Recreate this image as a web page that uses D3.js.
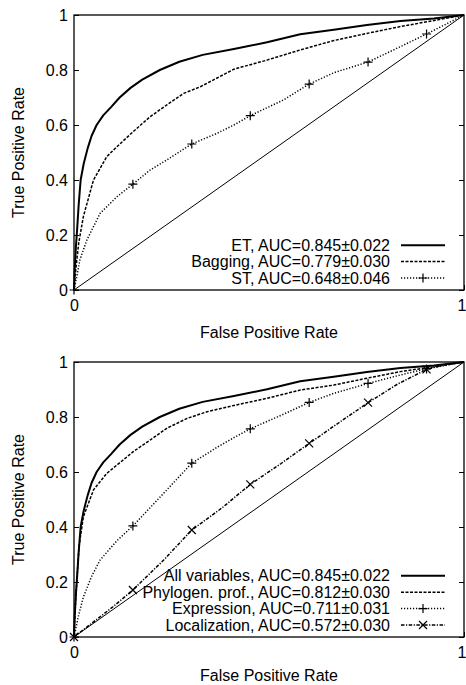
<!DOCTYPE html>
<html>
<head>
<meta charset="utf-8">
<script src="https://cdn.jsdelivr.net/npm/d3@7"></script>
<style>
body { margin: 0; background: #fff; }
text { font-family: "Liberation Sans", Arial, Helvetica, sans-serif; font-size: 16px; fill: #000; }
</style>
</head>
<body>
<div class="chart"></div>
<script>
var svgWidth = 466;
var svgHeight = 685;

var margin = { top: 15, right: 2, left: 74 };
var width = svgWidth - margin.left - margin.right;
var height = 275;
var panelTops = [15, 362];

// ROC curves (FPR grid, TPR values)
// ET and "All variables" are the same model (same AUC), so one curve
var etFpr = [0, 0.002, 0.005, 0.008, 0.012, 0.017, 0.025, 0.035, 0.045, 0.058, 0.075, 0.095, 0.117, 0.145, 0.175, 0.22, 0.27, 0.33, 0.41, 0.495, 0.58, 0.666, 0.751, 0.837, 0.923, 1];
var etTpr = [0, 0.08, 0.16, 0.22, 0.31, 0.40, 0.46, 0.515, 0.56, 0.60, 0.635, 0.665, 0.70, 0.735, 0.765, 0.80, 0.83, 0.855, 0.876, 0.901, 0.93, 0.946, 0.964, 0.978, 0.987, 1];

var bagFpr = [0, 0.005, 0.012, 0.024, 0.05, 0.084, 0.11, 0.152, 0.195, 0.238, 0.281, 0.324, 0.41, 0.495, 0.58, 0.666, 0.751, 0.837, 0.923, 1];
var bagTpr = [0, 0.08, 0.17, 0.267, 0.40, 0.485, 0.521, 0.576, 0.63, 0.673, 0.715, 0.739, 0.803, 0.836, 0.873, 0.907, 0.933, 0.958, 0.98, 1];

var stFpr = [0, 0.008, 0.015, 0.033, 0.067, 0.11, 0.151, 0.195, 0.238, 0.302, 0.367, 0.41, 0.452, 0.537, 0.603, 0.666, 0.754, 0.837, 0.904, 1];
var stTpr = [0, 0.055, 0.109, 0.182, 0.279, 0.339, 0.385, 0.436, 0.473, 0.531, 0.57, 0.60, 0.634, 0.691, 0.749, 0.79, 0.829, 0.885, 0.931, 1];

var phyFpr = [0, 0.003, 0.008, 0.013, 0.024, 0.05, 0.084, 0.152, 0.195, 0.238, 0.29, 0.341, 0.41, 0.495, 0.58, 0.666, 0.751, 0.837, 0.923, 1];
var phyTpr = [0, 0.10, 0.22, 0.33, 0.437, 0.535, 0.595, 0.674, 0.716, 0.759, 0.795, 0.819, 0.842, 0.868, 0.898, 0.916, 0.941, 0.965, 0.983, 1];

var exprFpr = [0, 0.012, 0.024, 0.045, 0.067, 0.11, 0.151, 0.195, 0.238, 0.302, 0.367, 0.41, 0.452, 0.537, 0.603, 0.666, 0.754, 0.837, 0.904, 1];
var exprTpr = [0, 0.08, 0.145, 0.22, 0.28, 0.35, 0.404, 0.47, 0.535, 0.632, 0.69, 0.725, 0.757, 0.81, 0.853, 0.886, 0.922, 0.953, 0.975, 1];

var locFpr = [0, 0.05, 0.10, 0.151, 0.23, 0.302, 0.38, 0.452, 0.53, 0.603, 0.68, 0.754, 0.83, 0.904, 0.95, 1];
var locTpr = [0, 0.055, 0.11, 0.171, 0.28, 0.389, 0.47, 0.555, 0.63, 0.704, 0.78, 0.852, 0.92, 0.973, 0.99, 1];

// gnuplot puts a point symbol every few samples
var markFpr = [0, 0.151, 0.302, 0.452, 0.603, 0.754, 0.904];

var yTicks = [0, 0.2, 0.4, 0.6, 0.8, 1];
var xTicks = [0, 1];

var topLabels = ["ET, AUC=0.845±0.022", "Bagging, AUC=0.779±0.030", "ST, AUC=0.648±0.046"];
var bottomLabels = ["All variables, AUC=0.845±0.022", "Phylogen. prof., AUC=0.812±0.030", "Expression, AUC=0.711±0.031", "Localization, AUC=0.572±0.030"];

var svg = d3.select(".chart")
    .append("svg")
    .attr("width", svgWidth)
    .attr("height", svgHeight);

var plusPath = "M-4.5,0H4.5M0,-4.5V4.5";
var crossPath = "M-4,-4L4,4M-4,4L4,-4";

// line styles
var solid = { dash: null, w: 2 };
var dashed = { dash: "3,1.5", w: 1.5 };
var dotted = { dash: "1.2,1.8", w: 1.5 };
var dashDot = { dash: "3.5,1.5,1.2,1.5", w: 1.5 };

var topCurves = [
    { fpr: etFpr, tpr: etTpr, label: topLabels[0], style: solid, marker: null },
    { fpr: bagFpr, tpr: bagTpr, label: topLabels[1], style: dashed, marker: null },
    { fpr: stFpr, tpr: stTpr, label: topLabels[2], style: dotted, marker: plusPath }
];
var bottomCurves = [
    { fpr: etFpr, tpr: etTpr, label: bottomLabels[0], style: solid, marker: null },
    { fpr: phyFpr, tpr: phyTpr, label: bottomLabels[1], style: dashed, marker: null },
    { fpr: exprFpr, tpr: exprTpr, label: bottomLabels[2], style: dotted, marker: plusPath },
    { fpr: locFpr, tpr: locTpr, label: bottomLabels[3], style: dashDot, marker: crossPath }
];

drawPanel(panelTops[0], topCurves);
drawPanel(panelTops[1], bottomCurves);

// linear lookup of tpr at a given fpr on a curve
function tprAt(fpr, tpr, v) {
    var i = d3.bisectLeft(fpr, v);
    if (i <= 0) return tpr[0];
    if (i >= fpr.length) return tpr[tpr.length - 1];
    var t = (v - fpr[i - 1]) / (fpr[i] - fpr[i - 1]);
    return tpr[i - 1] + t * (tpr[i] - tpr[i - 1]);
}

function drawPanel(offsetY, curves) {
    var g = svg.append("g")
        .attr("transform", `translate(${margin.left}, ${offsetY})`);

    var x = d3.scaleLinear().domain([0, 1]).range([0, width]);
    var y = d3.scaleLinear().domain([0, 1]).range([height, 0]);

    // left axis, ticks pointing inward
    var leftAxis = g.append("g")
        .call(d3.axisLeft(y).tickValues(yTicks).tickFormat(d3.format("~g"))
            .tickSizeInner(-5).tickSizeOuter(0).tickPadding(6));
    leftAxis.select(".domain").remove();

    // mirrored ticks on the right
    var rightAxis = g.append("g")
        .attr("transform", `translate(${width}, 0)`)
        .call(d3.axisRight(y).tickValues(yTicks).tickFormat("")
            .tickSizeInner(-5).tickSizeOuter(0));
    rightAxis.select(".domain").remove();

    var bottomAxis = g.append("g")
        .attr("transform", `translate(0, ${height})`)
        .call(d3.axisBottom(x).tickValues(xTicks).tickFormat(d3.format("~g"))
            .tickSizeInner(-5).tickSizeOuter(0).tickPadding(10));
    bottomAxis.select(".domain").remove();

    g.selectAll(".tick text").style("font-size", "16px");

    // keep the "1" at the right end inside the page
    bottomAxis.selectAll(".tick text")
        .filter(d => d === 1)
        .attr("text-anchor", "end")
        .attr("x", margin.right);

    // frame
    g.append("rect")
        .attr("width", width)
        .attr("height", height)
        .attr("fill", "none")
        .attr("stroke", "#000")
        .attr("stroke-width", 1.3);

    // chance diagonal
    g.append("line")
        .attr("x1", x(0)).attr("y1", y(0))
        .attr("x2", x(1)).attr("y2", y(1))
        .attr("stroke", "#000")
        .attr("stroke-width", 1);

    curves.forEach(function (c) {
        var line = d3.line()
            .x(function (d, i) { return x(c.fpr[i]); })
            .y(function (d, i) { return y(c.tpr[i]); });

        g.append("path")
            .attr("d", line(c.fpr))
            .attr("fill", "none")
            .attr("stroke", "#000")
            .attr("stroke-width", c.style.w)
            .attr("stroke-dasharray", c.style.dash)
            .attr("stroke-linejoin", "round");

        if (c.marker) {
            g.selectAll(null)
                .data(markFpr)
                .enter()
                .append("path")
                .attr("d", c.marker)
                .attr("transform", d => `translate(${x(d)}, ${y(tprAt(c.fpr, c.tpr, d))})`)
                .attr("fill", "none")
                .attr("stroke", "#000")
                .attr("stroke-width", 1.2);
        }
    });

    // legend, bottom right inside the frame
    var n = curves.length;
    curves.forEach(function (c, i) {
        var ry = height - 12 - 16.4 * (n - 1 - i);
        g.append("text")
            .attr("x", 316)
            .attr("y", ry)
            .attr("dy", "0.35em")
            .attr("text-anchor", "end")
            .text(c.label);
        g.append("line")
            .attr("x1", 327).attr("x2", 371)
            .attr("y1", ry).attr("y2", ry)
            .attr("stroke", "#000")
            .attr("stroke-width", c.style.w)
            .attr("stroke-dasharray", c.style.dash);
        if (c.marker) {
            g.append("path")
                .attr("d", c.marker)
                .attr("transform", `translate(349, ${ry})`)
                .attr("fill", "none")
                .attr("stroke", "#000")
                .attr("stroke-width", 1.2);
        }
    });

    // axis titles (bottom one nudged up so it stays on the page)
    g.append("text")
        .attr("x", width / 2)
        .attr("y", Math.min(height + 47.5, svgHeight - offsetY - 4))
        .attr("text-anchor", "middle")
        .text("False Positive Rate");

    g.append("text")
        .attr("transform", `translate(${23.5 - margin.left}, ${height / 2}) rotate(-90)`)
        .attr("text-anchor", "middle")
        .text("True Positive Rate");
}
</script>
</body>
</html>
